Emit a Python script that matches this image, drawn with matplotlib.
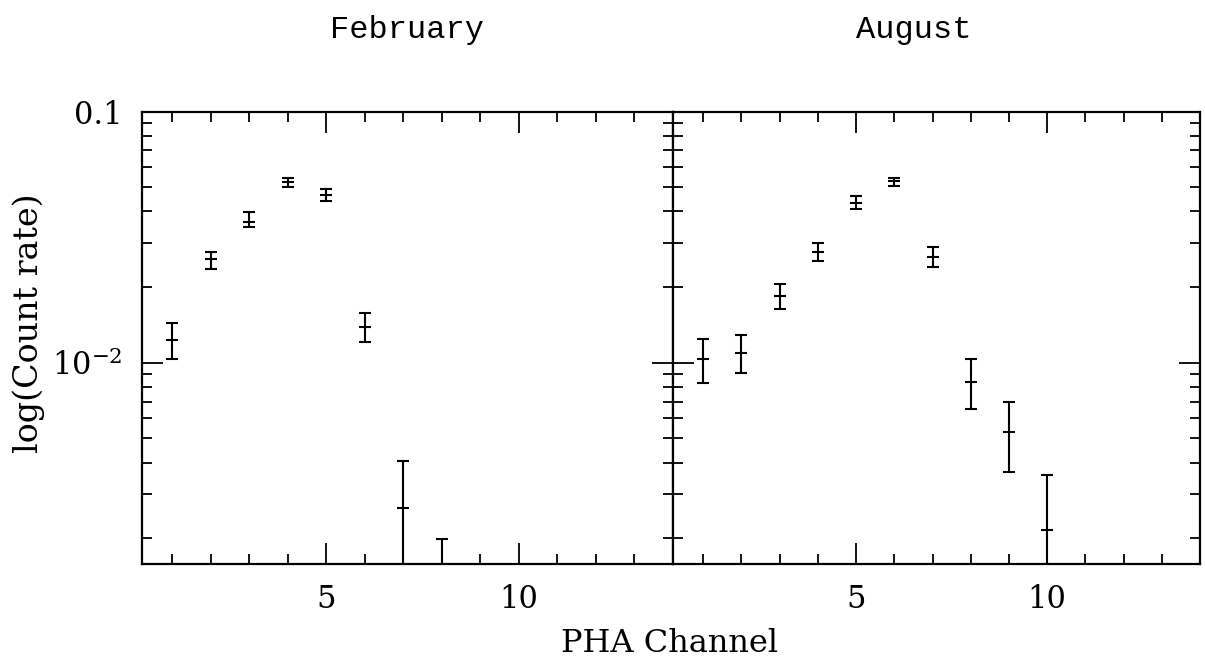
#!/usr/bin/env python3
import numpy as np
import matplotlib
matplotlib.use("Agg")
import matplotlib.pyplot as plt
from matplotlib.ticker import FixedLocator, FixedFormatter, NullFormatter


# -----------------------------
# Data
# -----------------------------
feb_channel = [1, 2, 3, 4, 5, 6, 7, 8]
feb_rate = [0.01231, 0.02580, 0.03641, 0.05226, 0.04652, 0.01383, 0.002633, 0.0013]
feb_lo = [0.01034, 0.02360, 0.03478, 0.04992, 0.04414, 0.01206, 0.0012, 0.0009]
feb_hi = [0.01435, 0.02766, 0.03969, 0.05451, 0.04901, 0.01581, 0.004073, 0.00198]

aug_channel = [1, 2, 3, 4, 5, 6, 7, 8, 9, 10]
aug_rate = [0.01032, 0.01096, 0.01844, 0.02766, 0.04311, 0.05274, 0.02642, 0.00840, 0.00531, 0.002163]
aug_lo = [0.00828, 0.00907, 0.01632, 0.02540, 0.04080, 0.05065, 0.02411, 0.00652, 0.00366, 0.0012]
aug_hi = [0.01243, 0.01293, 0.02063, 0.03004, 0.04610, 0.05422, 0.02880, 0.01032, 0.00696, 0.003573]

panel_titles = ["February", "August"]
x_major = [5, 10]
x_major_labels = ["5", "10"]
x_minor = list(range(1, 14))
y_major = [0.01, 0.1]
y_major_labels = [r"$10^{-2}$", "0.1"]
y_minor = [k * 1e-3 for k in range(2, 10)] + [k * 1e-2 for k in range(2, 10)]

XLIM = (0.2, 14.0)
YLIM = (0.001575, 0.1)

SERIF = "DejaVu Serif"
MONO = "Liberation Mono"

plt.rcParams["mathtext.fontset"] = "dejavuserif"


def _style_axes(ax, show_ylabels: bool):
    ax.set_xscale("linear")
    ax.set_yscale("log")
    ax.set_xlim(*XLIM)
    ax.set_ylim(*YLIM)

    ax.xaxis.set_major_locator(FixedLocator(x_major))
    ax.xaxis.set_major_formatter(FixedFormatter(x_major_labels))
    ax.xaxis.set_minor_locator(FixedLocator(x_minor))
    ax.xaxis.set_minor_formatter(NullFormatter())

    ax.yaxis.set_major_locator(FixedLocator(y_major))
    ax.yaxis.set_minor_locator(FixedLocator(y_minor))
    ax.yaxis.set_minor_formatter(NullFormatter())
    if show_ylabels:
        ax.yaxis.set_major_formatter(FixedFormatter(y_major_labels))
    else:
        ax.yaxis.set_major_formatter(NullFormatter())

    ax.tick_params(which="both", direction="in", top=True, right=True,
                   color="black", width=1.3)
    ax.tick_params(which="major", length=15, pad=14, labelsize=22)
    ax.tick_params(which="minor", length=7)
    for lab in ax.get_xticklabels() + ax.get_yticklabels():
        lab.set_family(SERIF)
    for sp in ax.spines.values():
        sp.set_linewidth(1.6)


def _draw(ax, xs, ys, lo, hi):
    ys = np.asarray(ys)
    yerr = np.vstack([ys - np.asarray(lo), np.asarray(hi) - ys])
    ax.errorbar(xs, ys, yerr=yerr, fmt="_", color="black", ms=8, mew=1.5,
                elinewidth=1.5, capsize=4.5, capthick=1.5)


fig = plt.figure(figsize=(12.05, 6.58), dpi=100)

bottom = 1 - 564.3 / 658
height = (564.3 - 111.5) / 658
ax1 = fig.add_axes([141.7 / 1205, bottom, (672.7 - 141.7) / 1205, height])
ax2 = fig.add_axes([672.7 / 1205, bottom, (1200 - 672.7) / 1205, height])

_style_axes(ax1, True)
_style_axes(ax2, False)

_draw(ax1, feb_channel, feb_rate, feb_lo, feb_hi)
_draw(ax2, aug_channel, aug_rate, aug_lo, aug_hi)

fig.text(407 / 1205, 1 - 30 / 658, panel_titles[0], family=MONO, fontsize=23,
         ha="center", va="center")
fig.text(914 / 1205, 1 - 30 / 658, panel_titles[1], family=MONO, fontsize=23,
         ha="center", va="center")

fig.text(670 / 1205, 1 - 644 / 658, "PHA Channel", family=SERIF, fontsize=23,
         ha="center", va="center")
fig.text(29 / 1205, 1 - 323 / 658, "log(Count rate)", family=SERIF, fontsize=24,
         ha="center", va="center", rotation=90)

fig.savefig("out.png", dpi=100)
plt.close(fig)
